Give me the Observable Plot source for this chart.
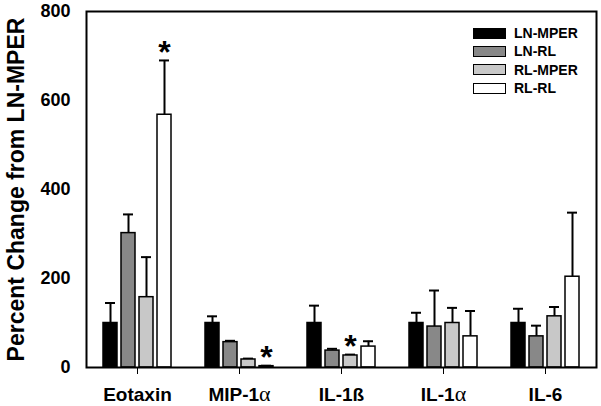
<!DOCTYPE html>
<html><head><meta charset="utf-8">
<script src="https://cdn.jsdelivr.net/npm/d3@7"></script>
<script src="https://cdn.jsdelivr.net/npm/@observablehq/plot@0.6"></script>
<style>
body{margin:0;background:#fff;}
#chart{position:relative;width:601px;height:406px;font-family:"Liberation Sans",Arial,sans-serif;}
#chart svg{display:block;}
#chart g[aria-label="y-axis tick label"] text{font-size:18px;}
#chart g[aria-label="y-axis label"] text{font-size:23px;}
#chart g[aria-label="fx-axis tick label"] text{font-size:19px;}
#legend{position:absolute;left:473px;top:24px;font-weight:bold;font-size:14px;color:#000;}
#legend .row{display:flex;align-items:center;height:18.3px;}
#legend .sw{width:33px;height:11px;border:1.6px solid #000;box-sizing:border-box;margin-right:8px;}
</style></head><body><div id="chart"></div>
<script>
const cytokines = ["Eotaxin", "MIP-1α", "IL-1ß", "IL-1α", "IL-6"];
const groups = ["LN-MPER", "LN-RL", "RL-MPER", "RL-RL"];
const fills = ["#000000", "#888888", "#c8c8c8", "#ffffff"];

// mean percent change and standard error (upper whisker) per cytokine
const lnMperMean = [100, 100, 100, 100, 100];
const lnMperSE   = [45, 15, 39, 23, 32];
const lnRlMean   = [302, 57, 38, 92, 70];
const lnRlSE     = [42, 3, 4, 81, 24];
const rlMperMean = [158, 18, 27, 100, 115];
const rlMperSE   = [90, 2, 2, 34, 21];
const rlRlMean   = [568, 3, 47, 70, 204];
const rlRlSE     = [122, 1, 12, 57, 144];

// significant differences marked with an asterisk
const starred = [["Eotaxin", "RL-RL"], ["MIP-1α", "RL-RL"], ["IL-1ß", "RL-MPER"]];

const means = [lnMperMean, lnRlMean, rlMperMean, rlRlMean];
const ses = [lnMperSE, lnRlSE, rlMperSE, rlRlSE];
const rows = [];
cytokines.forEach((c, i) => groups.forEach((g, j) => {
  rows.push({cytokine: c, group: g, mean: means[j][i], se: ses[j][i], upper: means[j][i] + ses[j][i],
    star: starred.some(([sc, sg]) => sc === c && sg === g)});
}));

const plot = Plot.plot({
  width: 601, height: 406,
  marginLeft: 86, marginRight: 5, marginTop: 11, marginBottom: 39,
  style: {fontFamily: "'Liberation Sans', Arial, sans-serif", fontWeight: "bold", color: "#000", background: "#fff", overflow: "visible"},
  fx: {domain: cytokines, padding: 0, label: null, axis: "bottom", tickSize: 7, tickPadding: 13},
  x: {domain: groups, axis: null, paddingInner: 0.21, paddingOuter: 0.79},
  y: {domain: [0, 800], ticks: [0, 200, 400, 600, 800], tickSize: 0, tickPadding: 16,
      label: "Percent Change from LN-MPER", labelAnchor: "center", labelOffset: 79, labelArrow: "none"},
  color: {domain: groups, range: fills},
  marks: [
    Plot.ruleX(rows, {fx: "cytokine", x: "group", y1: "mean", y2: "upper", stroke: "#000", strokeWidth: 2}),
    Plot.tickY(rows, {fx: "cytokine", x: "group", y: "upper", stroke: "#000", strokeWidth: 2, inset: 2}),
    Plot.barY(rows, {fx: "cytokine", x: "group", y: "mean", fill: "group", stroke: "#000", strokeWidth: 1.5}),
    Plot.text(rows.filter(d => d.star), {fx: "cytokine", x: "group", y: "upper", text: () => "*", fontSize: 32, fontWeight: "bold", dy: -7.5}),
    Plot.frame({facet: "super", stroke: "#000", strokeWidth: 2})
  ]
});

const chart = document.getElementById("chart");
chart.appendChild(plot);

// render the alpha as a symbol-style glyph, like the original
d3.select(plot).selectAll('g[aria-label="fx-axis tick label"] text').each(function() {
  const t = this.textContent;
  if (t.includes("α")) {
    const sel = d3.select(this);
    sel.text(t.replace("α", ""));
    sel.append("tspan").text("α").attr("font-family", "'Liberation Serif', 'DejaVu Serif', serif")
      .attr("font-weight", "normal").attr("font-size", "22px");
  }
});

const legend = d3.select(chart).append("div").attr("id", "legend");
groups.forEach((g, j) => {
  const row = legend.append("div").attr("class", "row");
  row.append("div").attr("class", "sw").style("background", fills[j]);
  row.append("span").text(g);
});
</script>
</body></html>
